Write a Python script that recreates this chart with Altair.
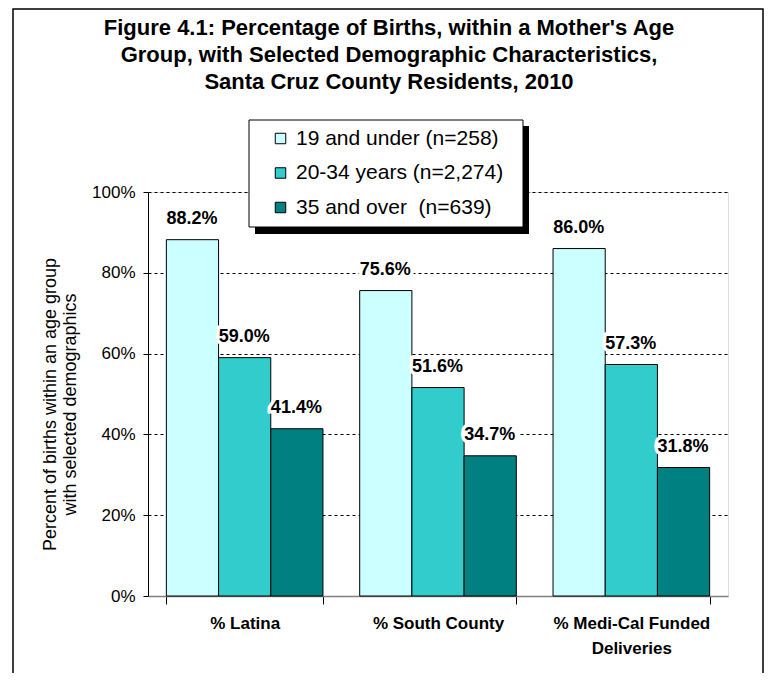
import altair as alt
import pandas as pd

title_lines = ["Figure 4.1: Percentage of Births, within a Mother's Age",
               "Group, with Selected Demographic Characteristics,",
               "Santa Cruz County Residents, 2010"]
categories = ["% Latina", "% South County", "% Medi-Cal Funded Deliveries"]
groups = ["19 and under (n=258)", "20-34 years (n=2,274)", "35 and over\u00a0 (n=639)"]
under19 = [88.2, 75.6, 86.0]
age20_34 = [59.0, 51.6, 57.3]
over35 = [41.4, 34.7, 31.8]
colors = ["#CCFFFF", "#33CCCC", "#008080"]
y_ticks = [0, 20, 40, 60, 80, 100]

rows = []
for series_name, vals in zip(groups, [under19, age20_34, over35]):
    for cat, v in zip(categories, vals):
        rows.append({"category": cat, "group": series_name, "value": v})
df = pd.DataFrame(rows)

FONT = "Liberation Sans"
W, H = 580, 404

x_enc = alt.X(
    "category:N",
    sort=categories,
    scale=alt.Scale(paddingInner=0.19, paddingOuter=0.095),
    axis=alt.Axis(
        title=None,
        labelAngle=0,
        labelFont=FONT,
        labelFontSize=17,
        labelFontWeight="bold",
        labelColor="black",
        labelPadding=11,
        labelLineHeight=25,
        labelExpr="datum.label == '% Medi-Cal Funded Deliveries' ? ['% Medi-Cal Funded', 'Deliveries'] : datum.label",
        domainColor="#808080",
        domainWidth=1.5,
        tickBand="extent",
        tickColor="black",
        tickSize=8,
        grid=False,
    ),
)
xoff_enc = alt.XOffset("group:N", sort=groups, scale=alt.Scale(paddingInner=0, paddingOuter=0))
y_enc = alt.Y(
    "value:Q",
    scale=alt.Scale(domain=[0, 100], nice=False),
    axis=alt.Axis(
        values=y_ticks,
        labelExpr="datum.value + '%'",
        title=["Percent of births within an age group", "with selected demographics"],
        titleFont=FONT,
        titleFontSize=18,
        titleFontWeight="normal",
        titleColor="black",
        titlePadding=12,
        titleLineHeight=20,
        titleY=212,
        labelFont=FONT,
        labelFontSize=17,
        labelColor="black",
        labelPadding=8,
        domainColor="black",
        tickColor="black",
        tickSize=5,
        grid=True,
        gridColor=alt.condition("datum.value == 0", alt.value("transparent"), alt.value("black")),
        gridDash=[3, 3],
        gridWidth=1,
    ),
)

one = pd.DataFrame({"a": [0]})
title_df = pd.DataFrame({"t": ["\n".join(title_lines)]})

frame = alt.Chart(one).mark_rect(fill=None, stroke="black", strokeWidth=1.5).encode(
    x=alt.value(-135), x2=alt.value(615), y=alt.value(-183), y2=alt.value(520)
)
shadow = alt.Chart(one).mark_rect(fill="black").encode(
    x=alt.value(107), x2=alt.value(381), y=alt.value(-66), y2=alt.value(42)
)
legend_box = alt.Chart(one).mark_rect(fill="white", stroke="black", strokeWidth=1).encode(
    x=alt.value(101), x2=alt.value(375), y=alt.value(-72), y2=alt.value(35)
)
title_text = alt.Chart(title_df).mark_text(
    font=FONT, fontSize=22, fontWeight="bold", color="black",
    align="center", baseline="alphabetic", lineBreak="\n", lineHeight=27,
).encode(x=alt.value(241), y=alt.value(-157), text="t:N")

bars = alt.Chart(df).mark_bar(stroke="black", strokeWidth=1).encode(
    x=x_enc,
    xOffset=xoff_enc,
    y=y_enc,
    color=alt.Color(
        "group:N",
        sort=groups,
        scale=alt.Scale(domain=groups, range=colors),
        legend=alt.Legend(
            orient="none",
            legendX=122,
            legendY=-64,
            title=None,
            labelFont=FONT,
            labelFontSize=21,
            labelColor="black",
            labelLimit=400,
            symbolType="square",
            symbolSize=110,
            symbolStrokeColor="black",
            symbolStrokeWidth=1,
            rowPadding=12.5,
            labelOffset=5,
            padding=0,
            zindex=1,
        ),
    ),
)

label_base = alt.Chart(df).transform_calculate(
    label="format(datum.value, '.1f') + '%'"
)
halo = label_base.mark_text(
    align="left", baseline="alphabetic", dx=-26, dy=-16,
    font=FONT, fontSize=18, fontWeight="bold",
    stroke="white", strokeWidth=7, fill="white",
).encode(x=alt.X("category:N", sort=categories), xOffset=alt.XOffset("group:N", sort=groups), y="value:Q", text="label:N")
labels = label_base.mark_text(
    align="left", baseline="alphabetic", dx=-26, dy=-16,
    font=FONT, fontSize=18, fontWeight="bold", color="black",
).encode(x=alt.X("category:N", sort=categories), xOffset=alt.XOffset("group:N", sort=groups), y="value:Q", text="label:N")

chart = alt.layer(frame, title_text, shadow, legend_box, bars, halo, labels).properties(
    width=W,
    height=H,
    padding={"left": 140, "top": 184, "right": 37, "bottom": 77},
    autosize=alt.AutoSizeParams(type="none"),
).configure_view(stroke=None).configure(background="white")

chart.save("out.html", embed_options={"renderer": "svg", "actions": False})
